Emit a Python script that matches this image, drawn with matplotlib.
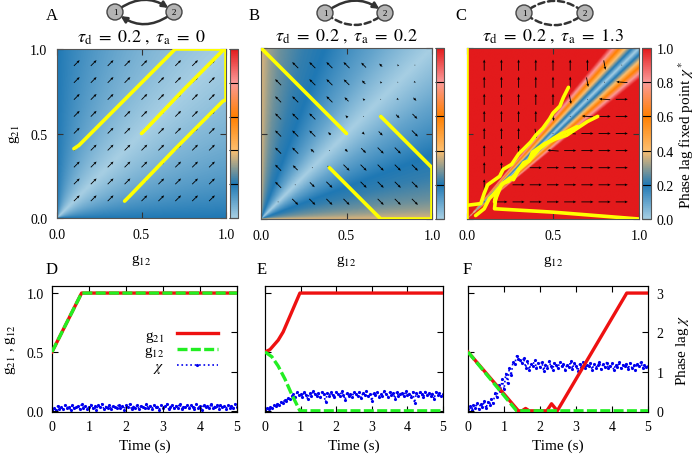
import matplotlib
matplotlib.use('Agg')
import matplotlib.pyplot as plt
import numpy as np
from matplotlib.colors import LinearSegmentedColormap
from matplotlib.patches import Circle, FancyArrowPatch

plt.rcParams['font.family'] = ['Liberation Serif', 'DejaVu Serif']
plt.rcParams['mathtext.fontset'] = 'stix'
plt.rcParams['font.size'] = 10

# colour scale of the phase lag fixed point
cmap_stops = [0.0, 0.2, 0.4, 0.6, 0.8, 1.0]
cmap_colors = ['#a6cee3', '#1f78b4', '#fdbf6f', '#ff7f00', '#fb9a99', '#e31a1c']

# fixed point against asymmetry |g21-g12|/(g21+g12)
asym_A = [0.0, 1.0]
fix_A = [0.0, 0.2]
asym_B = [0.0, 0.2, 0.45, 0.6, 0.8, 0.9, 1.0]
fix_B = [0.0, 0.1, 0.2, 0.22, 0.27, 0.31, 0.37]
asym_C = [0.0, 0.015, 0.035, 0.055, 0.075, 0.1, 1.0]
fix_C = [0.0, 0.15, 0.35, 0.55, 0.75, 1.0, 1.0]

titles = [r'$\tau_\mathrm{d}\ =\ 0.2\ ,\ \tau_\mathrm{a}\ =\ 0$',
          r'$\tau_\mathrm{d}\ =\ 0.2\ ,\ \tau_\mathrm{a}\ =\ 0.2$',
          r'$\tau_\mathrm{d}\ =\ 0.2\ ,\ \tau_\mathrm{a}\ =\ 1.3$']

# yellow trajectories (g12, g21)
traj_A = [([0.10, 0.13, 0.40, 0.70, 1.0], [0.41, 0.43, 0.70, 1.0, 1.0]),
          ([0.50, 0.53, 0.75, 0.98, 1.0], [0.50, 0.53, 0.76, 0.99, 1.0]),
          ([0.40, 0.43, 0.70, 0.98, 1.0, 1.0], [0.10, 0.13, 0.41, 0.69, 0.70, 1.0])]
traj_B = [([0.0, 0.5], [1.0, 0.5]),
          ([0.70, 1.0, 1.0], [0.60, 0.30, 0.0]),
          ([0.40, 0.70, 1.0], [0.30, 0.0, 0.0])]
traj_C = [([0.0, 0.0], [0.0, 1.0]),
          ([0.0, 0.08, 0.10, 0.12, 0.19, 0.21, 0.26, 0.30, 0.33, 0.37, 0.40, 0.44, 0.48, 0.50, 0.54, 0.56, 0.59],
           [0.08, 0.09, 0.15, 0.20, 0.25, 0.29, 0.32, 0.38, 0.41, 0.45, 0.49, 0.53, 0.585, 0.62, 0.66, 0.71, 0.77]),
          ([0.05, 0.10, 0.13, 0.15, 0.21, 0.24, 0.28, 0.33, 0.36, 0.38, 0.45, 0.52, 0.58, 0.64, 0.70, 0.76],
           [0.02, 0.06, 0.12, 0.14, 0.21, 0.22, 0.26, 0.33, 0.34, 0.39, 0.44, 0.47, 0.49, 0.53, 0.57, 0.60]),
          ([0.17, 0.16, 0.20, 0.25, 0.27, 0.30, 0.36, 0.42, 0.50, 0.55, 0.58, 0.64],
           [0.15, 0.10, 0.20, 0.24, 0.23, 0.29, 0.34, 0.41, 0.47, 0.50, 0.51, 0.54]),
          ([0.17, 0.16, 0.50, 1.0], [0.15, 0.06, 0.04, 0.0])]

# time courses
t_D = [0, 0.8, 5]
g21_D = [0.5, 1.0, 1.0]
g12_D = [0.5, 1.0, 1.0]
t21_E = [0, 0.14, 0.37, 0.51, 0.98, 5]
g21_E = [0.5, 0.52, 0.60, 0.67, 1.0, 1.0]
t12_E = [0, 0.19, 0.37, 0.56, 0.75, 0.98, 5]
g12_E = [0.5, 0.46, 0.38, 0.27, 0.14, 0.0, 0.0]
t21_F = [0, 1.40, 1.5, 1.6, 1.7, 2.19, 2.32, 2.48, 4.41, 5]
g21_F = [0.5, 0.0, 0.0, 0.02, 0.0, 0.0, 0.06, 0.0, 1.0, 1.0]
t12_F = [0, 1.35, 5]
g12_F = [0.5, 0.0, 0.0]

chi_t = np.linspace(0, 5, 101)
chi_D = [0.02, 0.08, 0.03, 0.12, 0.05, 0.10, 0.04, 0.14, 0.07, 0.11,
         0.03, 0.15, 0.06, 0.09, 0.12, 0.04, 0.17, 0.08, 0.13, 0.05,
         0.10, 0.16, 0.06, 0.12, 0.03, 0.14, 0.09, 0.18, 0.05, 0.11,
         0.07, 0.15, 0.04, 0.13, 0.10, 0.06, 0.16, 0.08, 0.12, 0.03,
         0.14, 0.09, 0.17, 0.05, 0.11, 0.07, 0.15, 0.04, 0.12, 0.10,
         0.06, 0.18, 0.08, 0.13, 0.05, 0.16, 0.09, 0.11, 0.03, 0.14,
         0.07, 0.12, 0.17, 0.05, 0.10, 0.15, 0.06, 0.13, 0.08, 0.18,
         0.04, 0.11, 0.09, 0.16, 0.06, 0.14, 0.10, 0.05, 0.17, 0.08,
         0.12, 0.03, 0.15, 0.09, 0.13, 0.06, 0.18, 0.07, 0.11, 0.14,
         0.05, 0.16, 0.09, 0.12, 0.04, 0.15, 0.08, 0.13, 0.06, 0.17,
         0.10]
chi_E = [0.03, 0.08, 0.05, 0.10, 0.07, 0.14, 0.12, 0.18, 0.15, 0.22,
         0.20, 0.27, 0.25, 0.33, 0.30, 0.38, 0.42, 0.35, 0.47, 0.40,
         0.44, 0.36, 0.48, 0.41, 0.30, 0.45, 0.39, 0.50, 0.43, 0.37,
         0.46, 0.34, 0.49, 0.42, 0.22, 0.45, 0.38, 0.47, 0.40, 0.35,
         0.48, 0.43, 0.37, 0.50, 0.41, 0.28, 0.46, 0.39, 0.44, 0.36,
         0.49, 0.42, 0.38, 0.47, 0.33, 0.45, 0.40, 0.50, 0.37, 0.43,
         0.25, 0.46, 0.41, 0.48, 0.36, 0.44, 0.39, 0.50, 0.42, 0.35,
         0.47, 0.40, 0.45, 0.31, 0.49, 0.38, 0.43, 0.46, 0.37, 0.50,
         0.41, 0.44, 0.36, 0.48, 0.20, 0.45, 0.39, 0.47, 0.42, 0.34,
         0.49, 0.40, 0.46, 0.38, 0.44, 0.30, 0.48, 0.41, 0.45, 0.37,
         0.43]
chi_F = [0.05, 0.12, 0.02, 0.15, 0.08, 0.20, 0.04, 0.18, 0.10, 0.25,
         0.06, 0.22, 0.15, 0.30, 0.20, 0.45, 0.35, 0.65, 0.50, 0.80,
         0.55, 0.95, 0.70, 1.10, 0.90, 1.25, 1.20, 1.40, 1.32, 1.30,
         1.22, 1.35, 1.10, 1.28, 1.05, 1.20, 1.15, 1.30, 1.08, 1.22,
         1.12, 1.25, 1.02, 1.18, 1.10, 1.27, 1.14, 1.05, 1.22, 1.16,
         1.09, 1.25, 1.13, 1.20, 1.04, 1.18, 1.11, 1.26, 1.07, 1.21,
         1.15, 1.02, 1.19, 1.12, 1.24, 1.08, 1.17, 1.13, 1.22, 1.05,
         1.20, 1.10, 1.16, 1.25, 1.06, 1.19, 1.12, 1.23, 1.09, 1.15,
         1.21, 1.04, 1.18, 1.11, 1.24, 1.08, 1.17, 1.14, 1.20, 1.06,
         1.22, 1.10, 1.16, 1.03, 1.19, 1.13, 1.25, 1.08, 1.17, 1.12,
         1.15]

cmap = LinearSegmentedColormap.from_list('lag', list(zip(cmap_stops, cmap_colors)))
edge = '#555555'

fig = plt.figure(figsize=(7, 4.56), dpi=100)

map_pos = [[57, 50, 169, 169], [261, 49, 171, 171], [467, 49, 172, 171]]
cb_pos = [[230, 50, 8, 169], [436, 49, 8, 171], [642, 49, 9, 171]]


def px(rect):
    x, y, w, h = rect
    return [x / 700, (456 - y - h) / 456, w / 700, h / 456]


g = np.linspace(0, 1, 300)
G12, G21 = np.meshgrid(g, g)
asym = np.abs(G21 - G12) / (G21 + G12 + 1e-9)
profiles = [(asym_A, fix_A), (asym_B, fix_B), (asym_C, fix_C)]
trajs = [traj_A, traj_B, traj_C]

qg = np.arange(0.1, 0.95, 0.1)
Q12, Q21 = np.meshgrid(qg, qg)
qd = (Q21 - Q12) / (Q21 + Q12)

for i in range(3):
    ax = fig.add_axes(px(map_pos[i]))
    z = np.interp(asym, *profiles[i])
    im = ax.imshow(z, origin='lower', extent=[0, 1, 0, 1], cmap=cmap,
                   vmin=0, vmax=1, aspect='auto', interpolation='bilinear')

    if i == 0:
        U = np.full_like(Q12, 0.034)
        V = np.full_like(Q12, 0.034)
        piv = 'tail'
    elif i == 1:
        mag = 0.05 * np.clip(np.abs(qd) / 0.25, 0, 1)
        U = -np.sign(qd) * mag / np.sqrt(2)
        V = np.sign(qd) * mag / np.sqrt(2)
        piv = 'mid'
    else:
        U = np.zeros_like(Q12)
        V = np.zeros_like(Q12)
        V[qd > 0.12] = 0.065
        U[qd < -0.12] = 0.07
        near_up = (qd > 0) & (qd <= 0.12)
        near_lo = (qd < 0) & (qd >= -0.12)
        U[near_up], V[near_up] = 0.01, -0.055
        U[near_lo], V[near_lo] = -0.065, 0.005
        piv = 'mid'
    ax.quiver(Q12, Q21, U, V, angles='xy', scale_units='xy', scale=1,
              pivot=piv, color='k', width=0.005, headwidth=3.2,
              headlength=3.6, headaxislength=3.2, zorder=3)

    for xs, ys in trajs[i]:
        ax.plot(xs, ys, color='#ffff00', lw=2.6, zorder=4,
                solid_capstyle='round', solid_joinstyle='round')

    ax.set_xlim(0, 1)
    ax.set_ylim(0, 1)
    ax.set_xticks([0, 0.5, 1])
    ax.set_yticks([0, 0.5, 1])
    ax.set_xticklabels(['0.0', '0.5', '1.0'])
    if i == 0:
        ax.set_yticklabels(['0.0', '0.5', '1.0'])
        ax.set_ylabel(r'g$_{21}$', fontsize=11, labelpad=6)
    else:
        ax.set_yticklabels([])
    ax.tick_params(direction='in', top=True, right=True, length=4,
                   color='#333333', pad=7, labelsize=10)
    for s in ax.spines.values():
        s.set_color(edge)
    ax.set_xlabel(r'g$_{12}$', fontsize=11, labelpad=8)
    ax.set_title(titles[i], fontsize=13, pad=6)

    cax = fig.add_axes(px(cb_pos[i]))
    cb = fig.colorbar(im, cax=cax, ticks=[0, 0.2, 0.4, 0.6, 0.8, 1.0])
    cb.outline.set_edgecolor(edge)
    cax.tick_params(direction='in', length=6.5, width=0.8, color='k',
                    labelsize=10, pad=4)
    if i == 2:
        cb.set_ticklabels(['0.0', '0.2', '0.4', '0.6', '0.8', '1.0'])
        cb.set_label(r'Phase lag fixed point $\chi^*$', fontsize=11, labelpad=2)
    else:
        cax.set_yticklabels([])

# time courses
ts_pos = [[52, 287, 185, 126], [265, 287, 178, 126], [468, 287, 180, 126]]
reds = [(t_D, g21_D), (t21_E, g21_E), (t21_F, g21_F)]
greens = [(t_D, g12_D), (t12_E, g12_E), (t12_F, g12_F)]
chis = [chi_D, chi_E, chi_F]
for i in range(3):
    ax = fig.add_axes(px(ts_pos[i]))
    ax2 = ax.twinx()
    lb, = ax2.plot(chi_t, chis[i], color='#0000ee', ls=':', lw=1.2,
                   marker='.', ms=2.5, zorder=2)
    lr, = ax.plot(*reds[i], color='#ee1111', lw=2.4, zorder=3)
    lg, = ax.plot(*greens[i], color='#22ee22', lw=2.4, dashes=(3, 1), zorder=4)
    ax.set_zorder(ax2.get_zorder() + 1)
    ax.patch.set_visible(False)
    ax.set_xlim(0, 5)
    ax.set_ylim(-0.01, 1.06)
    ax2.set_ylim(-0.03, 3.18)
    ax.set_xticks(range(6))
    ax.set_yticks([0, 0.5, 1.0])
    ax2.set_yticks([0, 1, 2, 3])
    ax.tick_params(direction='in', top=True, length=4, pad=6, labelsize=10)
    ax2.tick_params(direction='in', length=4, pad=6, labelsize=10)
    if i == 0:
        ax.set_yticklabels(['0.0', '0.5', '1.0'])
        ax.set_ylabel(r'g$_{21}$ , g$_{12}$', fontsize=11, labelpad=6)
        ax.legend([lr, lg, lb], [r'g$_{21}$', r'g$_{12}$', r'$\chi$'],
                  loc='center right', bbox_to_anchor=(0.93, 0.48),
                  frameon=False, markerfirst=False, fontsize=11,
                  handlelength=2.7, labelspacing=0.0, borderaxespad=0)
    else:
        ax.set_yticklabels([])
    if i == 2:
        ax2.set_ylabel(r'Phase lag $\chi$', fontsize=11, labelpad=8)
    else:
        ax2.set_yticklabels([])
    for s in ax2.spines.values():
        s.set_color('#444444')
    ax.set_xlabel('Time (s)', fontsize=11, labelpad=4)

# overlay for panel letters and network sketches
ov = fig.add_axes([0, 0, 1, 1], zorder=10)
ov.set_xlim(0, 700)
ov.set_ylim(456, 0)
ov.set_axis_off()
ov.patch.set_visible(False)

for letter, x, y in [('A', 52, 16), ('B', 254, 16), ('C', 461, 16),
                     ('D', 52, 270), ('E', 262, 270), ('F', 467, 270)]:
    ov.text(x, y, letter, fontsize=12, ha='center', va='center')

nodes = [(115, 13, 174, 13), (325, 14, 385, 14), (524, 14, 585, 14)]
links = [('solid', 'solid'), ('solid', 'dashed'), ('dashed', 'dashed')]
for (x1, y1, x2, y2), (top, bot) in zip(nodes, links):
    for (pa, pb, style) in [((x1, y1), (x2, y2), top), ((x2, y2), (x1, y1), bot)]:
        head = '-|>' if style == 'solid' else '-'
        arr = FancyArrowPatch(pa, pb, connectionstyle='arc3,rad=-0.4',
                              arrowstyle=head, mutation_scale=9, lw=1.8,
                              color='#333333', shrinkA=5, shrinkB=5,
                              linestyle='-' if style == 'solid' else (0, (2.5, 1.5)))
        ov.add_patch(arr)
    for cx, lab in [(x1, '1'), (x2, '2')]:
        ov.add_patch(Circle((cx, y1), 8, facecolor='#b4b4b4',
                            edgecolor='#444444', lw=1, zorder=5))
        ov.text(cx, y1, lab, fontsize=6.5, ha='center', va='center', zorder=6)

fig.savefig('out.png', dpi=100)
